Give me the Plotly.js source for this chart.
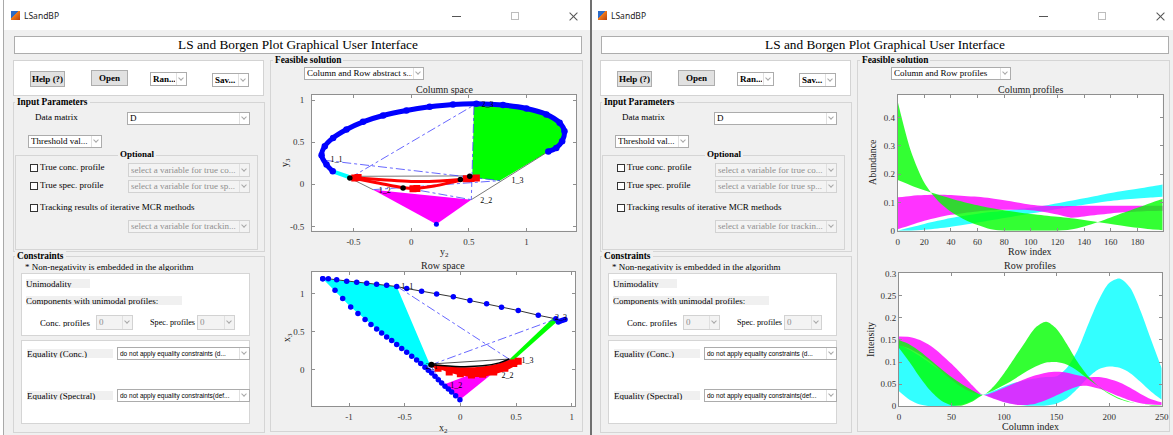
<!DOCTYPE html>
<html><head><meta charset="utf-8">
<script src="https://cdn.plot.ly/plotly-3.0.1.min.js"></script>
<style>
html,body{margin:0;padding:0;background:#fff;}
#root{position:relative;width:1173px;height:435px;overflow:hidden;background:#fff;font-family:'Liberation Serif',serif;}
#plot{position:absolute;left:0;top:0;width:1173px;height:435px;z-index:5;pointer-events:none;}
.a{position:absolute;box-sizing:border-box;white-space:nowrap;}
</style></head><body><div id="root"><div id="plot"></div></div>
<script>
// ---------------- DATA ----------------
// Column space (y2, y3)
const csEllipseX = [-0.68,-0.734,-0.777,-0.749,-0.677,-0.561,-0.417,-0.243,-0.041,0.161,0.363,0.566,0.797,1.0,1.173,1.288,1.33,1.31,1.259,1.19];
const csEllipseY = [0.155,0.234,0.345,0.452,0.551,0.651,0.742,0.817,0.877,0.92,0.948,0.956,0.94,0.90,0.83,0.73,0.63,0.512,0.432,0.39];
const csGreenX = [0.545,0.566,0.797,1.0,1.173,1.288,1.33,1.31,1.259,1.19,0.768,0.53];
const csGreenY = [0.935,0.956,0.94,0.90,0.83,0.73,0.63,0.512,0.432,0.39,0.044,0.08];
const csMagX = [-0.33,0.522,0.219];
const csMagY = [-0.063,-0.182,-0.473];
const csCyanX = [-0.68,-0.545];
const csCyanY = [0.155,0.09];
const csGrayX = [-0.532,-0.33,null,0.522,1.19,null,-0.53,0.53];
const csGrayY = [0.075,-0.063,null,-0.182,0.39,null,0.095,0.1];
const csDashX = [-0.532,0.545,null,-0.753,0.768,null,0.545,0.522,null,-0.33,0.768,null,-0.532,0.522];
const csDashY = [0.075,0.94,null,0.286,0.044,null,0.93,-0.182,null,-0.063,0.044,null,0.075,-0.182];
const csRedUpX = [-0.53,-0.25,0,0.25,0.45,0.57];
const csRedUpY = [0.08,0.055,0.035,0.04,0.06,0.08];
const csRedLoX = [-0.53,-0.3,-0.07,0.02,0.2,0.4,0.57];
const csRedLoY = [0.08,0.02,-0.04,-0.05,-0.02,0.04,0.075];
const csRedSqX = [-0.489,-0.46,0.016,0.05,0.479,0.52,0.566];
const csRedSqY = [0.075,0.08,-0.052,-0.05,0.067,0.07,0.075];
const csBlackX = [-0.532,-0.07,0.427,0.508];
const csBlackY = [0.075,-0.044,0.056,0.095];
const csDotX = [0.219];
const csDotY = [-0.473];
const csLabels = ['1_1','1_2','1_3','2_2','2_3'];
const csLabX = [-0.70,-0.28,0.87,0.60,0.61];
const csLabY = [0.29,-0.075,0.044,-0.2,0.94];

// Row space (x2, x3)
const rsUpperX = [-1.236,-1.186,-1.111,-1.021,-0.931,-0.841,-0.752,-0.662,-0.572,-0.482,-0.348,-0.213,-0.063,0.086,0.236,0.370,0.520,0.70,0.858];
const rsUpperY = [1.2,1.2,1.187,1.169,1.156,1.142,1.128,1.115,1.098,1.072,1.037,1.001,0.962,0.913,0.869,0.825,0.781,0.719,0.671];
const rsLowerX = [-1.236,-1.126,-1.057,-0.985,-0.92,-0.856,-0.803,-0.752,-0.707,-0.662,-0.617,-0.572,-0.527,-0.482,-0.437,-0.393,-0.356,-0.318,-0.288,-0.258,-0.228,-0.198,-0.168,-0.138,-0.108,-0.078,-0.042,-0.004];
const rsLowerY = [1.2,1.05,0.94,0.829,0.741,0.662,0.596,0.538,0.485,0.433,0.384,0.331,0.278,0.23,0.177,0.128,0.08,0.031,-0.008,-0.044,-0.088,-0.132,-0.176,-0.22,-0.255,-0.295,-0.343,-0.396];
const rsEndX = [0.88,0.9,0.92,0.94];
const rsEndY = [0.63,0.642,0.652,0.662];
const rsCyanX = [-1.236,-0.572,-0.273,-0.318,-0.393,-0.572,-0.752,-0.985,-1.236];
const rsCyanY = [1.2,1.098,0.066,0.031,0.128,0.331,0.538,0.829,1.2];
const rsMagX = [-0.153,0.445,-0.004,-0.078,-0.153];
const rsMagY = [-0.198,0.133,-0.396,-0.295,-0.198];
const rsGreenX = [0.44,0.83,0.885,0.47];
const rsGreenY = [0.135,0.68,0.655,0.115];
const rsRedX = [-0.26,0,0.2,0.35,0.45,0.53,0.53,0.45,0.3,0.15,0,-0.15,-0.26];
const rsRedY = [0.06,0.02,0.03,0.07,0.12,0.12,0.1,0.03,-0.05,-0.085,-0.06,0.0,0.05];
const rsRedSqX = [-0.2,-0.1,0.0,0.1,0.2,0.3,0.4,0.48,0.52];
const rsRedSqY = [0.02,-0.03,-0.055,-0.07,-0.06,-0.03,0.02,0.08,0.11];
const rsBlackX = [-0.26,0,0.2,0.35,0.44];
const rsBlackY = [0.065,0.04,0.05,0.09,0.14];
const rsThinX = [-0.26,0.44];
const rsThinY = [0.075,0.14];
const rsDashX = [-0.57,0.445,null,-0.27,0.86,null,-0.27,-0.15];
const rsDashY = [1.1,0.133,null,0.06,0.67,null,0.06,-0.2];
const rsLabels = ['1_1','2_1','1_2','2_2','1_3','2_3'];
const rsLabX = [-0.53,-0.31,-0.09,0.37,0.55,0.85];
const rsLabY = [1.09,0.04,-0.21,-0.09,0.115,0.68];

// Column profiles
const cpX = [0,10,20,30,40,50,60,70,80,90,100,110,120,130,140,150,160,170,180,190,199];
const cpCyanHi = [0.0,0.012,0.024,0.035,0.045,0.053,0.06,0.066,0.071,0.076,0.081,0.088,0.097,0.106,0.115,0.124,0.133,0.141,0.148,0.156,0.163];
const cpCyanLo = [0.0,0.0,0.003,0.008,0.014,0.021,0.029,0.037,0.045,0.053,0.061,0.069,0.077,0.085,0.092,0.099,0.105,0.11,0.114,0.117,0.12];
const cpMagHi = [0.118,0.123,0.126,0.127,0.126,0.123,0.12,0.115,0.108,0.1,0.092,0.088,0.087,0.087,0.088,0.088,0.088,0.088,0.088,0.088,0.088];
const cpMagLo = [0.005,0.02,0.035,0.047,0.056,0.063,0.068,0.072,0.074,0.074,0.072,0.066,0.057,0.046,0.05,0.056,0.061,0.065,0.068,0.07,0.071];
const cpGreenA = [0.457,0.28,0.17,0.107,0.067,0.04,0.02,0.005,0.0,0.0,0.0,0.0,0.0,0.004,0.015,0.03,0.047,0.064,0.081,0.098,0.113];
const cpGreenB = [0.179,0.16,0.143,0.128,0.114,0.101,0.09,0.08,0.072,0.065,0.059,0.054,0.049,0.044,0.038,0.031,0.024,0.017,0.01,0.005,0.002];

// Row profiles
const rpX = [0,10,20,30,40,50,60,70,80,90,100,110,120,130,140,150,160,170,180,190,200,210,220,230,240,250];
const rpCyanHi = [0.14,0.128,0.113,0.097,0.08,0.064,0.049,0.036,0.026,0.035,0.045,0.053,0.059,0.063,0.066,0.068,0.088,0.127,0.185,0.24,0.279,0.289,0.268,0.215,0.15,0.086];
const rpCyanLo = [0.034,0.015,0.004,0.0,0.0,0.0,0.004,0.013,0.026,0.018,0.01,0.005,0.002,0.001,0.002,0.006,0.018,0.04,0.065,0.084,0.09,0.087,0.075,0.055,0.033,0.015];
const rpMagHi = [0.158,0.157,0.15,0.137,0.118,0.096,0.072,0.047,0.026,0.032,0.042,0.052,0.062,0.07,0.076,0.078,0.076,0.07,0.066,0.066,0.062,0.054,0.042,0.028,0.016,0.009];
const rpMagLo = [0.138,0.13,0.117,0.1,0.08,0.06,0.043,0.031,0.026,0.017,0.009,0.004,0.003,0.006,0.014,0.025,0.036,0.045,0.046,0.04,0.032,0.022,0.013,0.007,0.004,0.003];
const rpGreenHi = [0.15,0.14,0.124,0.105,0.085,0.066,0.05,0.036,0.026,0.045,0.075,0.11,0.145,0.178,0.191,0.175,0.14,0.1,0.068,0.045,0.028,0.016,0.009,0.005,0.003,0.002];
const rpGreenLo = [0.132,0.1,0.065,0.035,0.013,0.002,0.002,0.011,0.026,0.036,0.048,0.062,0.077,0.09,0.099,0.1,0.094,0.08,0.062,0.045,0.03,0.018,0.01,0.005,0.002,0.001];

// Tick labels
const csXTicks = [-0.5,0,0.5,1], csXText = ['-0.5','0','0.5','1'];
const csYTicks = [-0.5,0,0.5,1], csYText = ['-0.5','0','0.5','1'];
const rsXTicks = [-1,-0.5,0,0.5,1], rsXText = ['-1','-0.5','0','0.5','1'];
const rsYTicks = [0,0.5,1], rsYText = ['0','0.5','1'];
const cpXTicks = [0,20,40,60,80,100,120,140,160,180];
const cpYTicks = [0,0.1,0.2,0.3,0.4], cpYText = ['0','0.1','0.2','0.3','0.4'];
const rpXTicks = [0,50,100,150,200,250];
const rpYTicks = [0,0.05,0.1,0.15,0.2,0.25,0.3], rpYText = ['0','0.05','0.1','0.15','0.2','0.25','0.3'];

// ---------------- GUI ----------------
const root = document.getElementById('root');
function box(x,y,w,h,css,text){const d=document.createElement('div');d.className='a';d.style.cssText=`left:${x}px;top:${y}px;width:${w}px;height:${h}px;`+(css||'');if(text!=null)d.textContent=text;root.appendChild(d);return d;}
function txt(x,cy,s,fs,css){const d=document.createElement('div');d.className='a';d.style.cssText=`left:${x}px;top:${cy-fs*0.65}px;font-size:${fs}px;line-height:${fs*1.3}px;`+(css||'');d.textContent=s;root.appendChild(d);return d;}
function chevron(x,y,c){box(x,y,4,4,`border-right:1px solid ${c};border-bottom:1px solid ${c};transform:rotate(45deg);`);}
function dropdown(x,y,w,h,text,o){o=o||{};
  const bg=o.disabled?'#f3f3f3':'#fff', col=o.disabled?'#8e8e8e':'#000';
  box(x,y,w,h,`background:${bg};border:1px solid ${o.disabled?'#d2d2d2':'#acacac'};`);
  box(x+3,y,w-15,h,`font-family:${o.font||"'Liberation Serif',serif"};font-size:${o.fs||9}px;line-height:${h}px;color:${col};overflow:hidden;font-weight:${o.bold?'bold':'normal'};`,text);
  box(x+w-11,y+1,10,h-2,`border-left:1px solid #e0e0e0;background:${bg};`);
  chevron(x+w-8,y+h/2-3.5,'#a8a8a8');
}
function panelLabel(x,cy,s,extra){txt(x,cy,s,9.3,'font-weight:bold;background:#f0f0f0;padding:0 2px;color:#000;'+(extra||''));}
function clipLabel(x,y,w,s,bg,fs){box(x,y,w,9,`background:${bg};font-size:${fs||9}px;line-height:10px;overflow:hidden;color:#000;`,s);}

function windowGUI(dx,feasText){
  box(dx+3,0,588,435,'background:#f0f0f0;border-left:1px solid #a9a9a9;');
  box(dx+4,0,587,30,'background:#fff;');
  box(dx+11,11,9,9,'background:linear-gradient(135deg,#2d6bc6 0%,#2d6bc6 42%,#ef7a1a 43%,#b8400c 100%);');
  txt(dx+24,16,'LSandBP',8.5,"font-family:'Noto Sans',sans-serif;color:#222;");
  box(dx+452,16,9,1,'background:#555;');
  box(dx+511,12,8,8,'border:1px solid #bdbdbd;');
  box(dx+568,16,11,1,'background:#555;transform:rotate(45deg);');
  box(dx+568,16,11,1,'background:#555;transform:rotate(-45deg);');
  // title box
  box(dx+14,36,568,18,'background:#fff;border:1px solid #adadad;font-size:13.3px;line-height:16px;text-align:center;color:#000;','LS and Borgen Plot Graphical User Interface');
  // button panel
  box(dx+13,60,251,36,'background:#fff;border:1px solid #d3d3d3;');
  box(dx+30,71,35,16,'background:#e1e1e1;border:1px solid #adadad;font-weight:bold;font-size:9px;line-height:14px;text-align:center;','Help (?)');
  box(dx+91,70,37,16,'background:#e1e1e1;border:1px solid #adadad;font-weight:bold;font-size:9px;line-height:14px;text-align:center;','Open');
  dropdown(dx+150,72,37,14,'Ran...',{bold:true});
  dropdown(dx+212,73,37,14,'Sav...',{bold:true});
  // Input parameters
  box(dx+13,102,252,150,'border:1px solid #d5d5d5;');
  panelLabel(dx+15,102,'Input Parameters');
  txt(dx+35,118,'Data matrix',9,'color:#000;');
  dropdown(dx+127,112,123,13,'D');
  dropdown(dx+28,135,74,13,'Threshold val...');
  box(dx+15,155,243,95,'border:1px solid #d5d5d5;');
  txt(dx+118,155,'Optional',9,'font-weight:bold;background:#f0f0f0;padding:0 2px;');
  const chk=[[164,'True conc. profile'],[182,'True spec. profile'],[204,'Tracking results of iterative MCR methods']];
  chk.forEach(c=>{box(dx+30,c[0],8,8,'background:#fff;border:1px solid #333;');txt(dx+40,c[0]+4,c[1],9,'color:#000;');});
  dropdown(dx+128,163,122,14,'select a variable for true co...',{disabled:true});
  dropdown(dx+128,180,122,13,'select a variable for true sp...',{disabled:true});
  dropdown(dx+128,220,122,13,'select a variable for trackin...',{disabled:true});
  // Constraints
  box(dx+13,256,252,177,'border:1px solid #d5d5d5;');
  panelLabel(dx+15,256,'Constraints');
  box(dx+25,262,230,9,'font-size:9px;line-height:10px;overflow:hidden;color:#000;','* Non-negativity is embedded in the algorithm');
  box(dx+21,273,229,63,'background:#fff;border:1px solid #d5d5d5;');
  clipLabel(dx+26,279,64,'Unimodality','#f0f0f0');
  clipLabel(dx+26,296,156,'Components with unimodal profiles:','#f0f0f0');
  clipLabel(dx+40,318,54,'Conc. profiles','#fff',8.8);
  dropdown(dx+96,315,37,15,'0',{disabled:true});
  clipLabel(dx+150,318,46,'Spec. profiles','#fff',8.2);
  dropdown(dx+197,315,38,15,'0',{disabled:true});
  box(dx+21,340,229,84,'background:#fff;border:1px solid #d5d5d5;');
  clipLabel(dx+27,349,86,'Equality (Conc.)','#f0f0f0');
  dropdown(dx+117,347,133,13,'do not apply equality constraints (d...',{font:"'Liberation Sans',sans-serif",fs:6.5});
  clipLabel(dx+27,391,86,'Equality (Spectral)','#f0f0f0');
  dropdown(dx+117,389,133,13,'do not apply equality constraints(def...',{font:"'Liberation Sans',sans-serif",fs:6.5});
  // Feasible solution
  box(dx+270,60,313,372,'border:1px solid #d5d5d5;');
  panelLabel(dx+273,60,'Feasible solution');
  dropdown(dx+304,67,120,13,feasText);
}
windowGUI(0,'Column and Row abstract s...');
windowGUI(587,'Column and Row profiles');
box(590,0,2,435,'background:#707070;');

// ---------------- PLOTS ----------------
const W=1173,H=435;
const dX=(a,b)=>[a/W,b/W], dY=(t,b)=>[1-b/H,1-t/H];
const SERIF="'Liberation Serif', serif";
function ax(o){return Object.assign({showline:true,mirror:'ticks',linecolor:'#8f8f8f',linewidth:1,ticks:'inside',ticklen:3,tickcolor:'#8f8f8f',showgrid:false,zeroline:false,tickfont:{family:SERIF,size:9,color:'#333'},fixedrange:true,ticklabelstandoff:2},o);}
const S=(xa,ya,o)=>Object.assign({xaxis:xa,yaxis:ya,hoverinfo:'skip',showlegend:false},o);

const traces=[
  // Column space
  S('x','y',{x:csGreenX,y:csGreenY,fill:'toself',fillcolor:'#00ff00',mode:'lines',line:{width:0}}),
  S('x','y',{x:csMagX,y:csMagY,fill:'toself',fillcolor:'#ff00ff',mode:'lines',line:{width:0}}),
  S('x','y',{x:csGrayX,y:csGrayY,mode:'lines',line:{color:'#555',width:0.8}}),
  S('x','y',{x:csDashX,y:csDashY,mode:'lines',line:{color:'#4040ff',width:0.8,dash:'dashdot'}}),
  S('x','y',{x:csCyanX,y:csCyanY,mode:'lines',line:{color:'#00ffff',width:4}}),
  S('x','y',{x:csEllipseX,y:csEllipseY,mode:'lines+markers',line:{color:'#0000ff',width:5,shape:'spline'},marker:{size:6.5,color:'#0000ff'}}),
  S('x','y',{x:csDotX,y:csDotY,mode:'markers',marker:{size:5,color:'#0000ff'}}),
  S('x','y',{x:csRedUpX,y:csRedUpY,mode:'lines',line:{color:'#ff0000',width:3,shape:'spline'}}),
  S('x','y',{x:csRedLoX,y:csRedLoY,mode:'lines',line:{color:'#ff0000',width:3,shape:'spline'}}),
  S('x','y',{x:csRedSqX,y:csRedSqY,mode:'markers',marker:{size:7,symbol:'square',color:'#ff0000'}}),
  S('x','y',{x:csBlackX,y:csBlackY,mode:'markers',marker:{size:5.5,color:'#000'}}),
  S('x','y',{x:csLabX,y:csLabY,mode:'text',text:csLabels,textposition:'middle right',textfont:{family:SERIF,size:8,color:'#000'}}),
  // Row space
  S('x2','y2',{x:rsCyanX,y:rsCyanY,fill:'toself',fillcolor:'#00ffff',mode:'lines',line:{width:0}}),
  S('x2','y2',{x:rsMagX,y:rsMagY,fill:'toself',fillcolor:'#ff00ff',mode:'lines',line:{width:0}}),
  S('x2','y2',{x:rsGreenX,y:rsGreenY,fill:'toself',fillcolor:'#00ff00',mode:'lines',line:{width:0}}),
  S('x2','y2',{x:rsUpperX,y:rsUpperY,mode:'lines',line:{color:'#333',width:1}}),
  S('x2','y2',{x:rsDashX,y:rsDashY,mode:'lines',line:{color:'#4040ff',width:0.8,dash:'dashdot'}}),
  S('x2','y2',{x:rsRedX,y:rsRedY,fill:'toself',fillcolor:'#ff0000',mode:'lines',line:{color:'#ff0000',width:2,shape:'spline'}}),
  S('x2','y2',{x:rsRedSqX,y:rsRedSqY,mode:'markers',marker:{size:7,symbol:'square',color:'#ff0000'}}),
  S('x2','y2',{x:rsThinX,y:rsThinY,mode:'lines',line:{color:'#222',width:0.8}}),
  S('x2','y2',{x:rsBlackX,y:rsBlackY,mode:'lines',line:{color:'#000',width:1.5,shape:'spline'}}),
  S('x2','y2',{x:[rsBlackX[0]],y:[rsBlackY[0]],mode:'markers',marker:{size:6,color:'#000'}}),
  S('x2','y2',{x:rsUpperX,y:rsUpperY,mode:'markers',marker:{size:5.5,color:'#0000ff'}}),
  S('x2','y2',{x:rsLowerX,y:rsLowerY,mode:'markers',marker:{size:5.5,color:'#0000ff'}}),
  S('x2','y2',{x:rsEndX,y:rsEndY,mode:'markers',marker:{size:5.5,color:'#0000ff'}}),
  S('x2','y2',{x:rsLabX,y:rsLabY,mode:'text',text:rsLabels,textposition:'middle right',textfont:{family:SERIF,size:8,color:'#000'}}),
];
function band(xa,ya,xs,lo,hi,col){
  traces.push(S(xa,ya,{x:xs,y:lo,mode:'lines',line:{width:0,shape:'spline',smoothing:0.8}}));
  traces.push(S(xa,ya,{x:xs,y:hi,mode:'lines',fill:'tonexty',fillcolor:col,line:{width:0,shape:'spline',smoothing:0.8}}));
}
const CY='rgba(0,255,255,0.8)', MG='rgba(255,0,255,0.8)', GR='rgba(0,255,0,0.8)';
band('x3','y3',cpX,cpCyanLo,cpCyanHi,CY);
band('x3','y3',cpX,cpMagLo,cpMagHi,MG);
band('x3','y3',cpX,cpGreenB,cpGreenA,GR);
band('x4','y4',rpX,rpCyanLo,rpCyanHi,CY);
band('x4','y4',rpX,rpMagLo,rpMagHi,MG);
band('x4','y4',rpX,rpGreenLo,rpGreenHi,GR);

const ann=(px,py,text,o)=>Object.assign({xref:'paper',yref:'paper',x:px/W,y:1-py/H,text,showarrow:false,xanchor:'center',yanchor:'middle',font:{family:SERIF,size:10,color:'#222'}},o||{});
const layout={
  width:W,height:H,margin:{l:0,r:0,t:0,b:0},paper_bgcolor:'rgba(0,0,0,0)',plot_bgcolor:'#fff',showlegend:false,
  xaxis:ax({domain:dX(312,576),range:[-0.86,1.43],tickvals:csXTicks,ticktext:csXText,anchor:'y'}),
  yaxis:ax({domain:dY(95,230.7),range:[-0.55,1.06],tickvals:csYTicks,ticktext:csYText,anchor:'x',ticklabelstandoff:5}),
  xaxis2:ax({domain:dX(312.3,575),range:[-1.33,1.03],tickvals:rsXTicks,ticktext:rsXText,anchor:'y2'}),
  yaxis2:ax({domain:dY(272,406.3),range:[-0.484,1.29],tickvals:rsYTicks,ticktext:rsYText,anchor:'x2',ticklabelstandoff:5}),
  xaxis3:ax({domain:dX(897.7,1162.7),range:[0,199],tickvals:cpXTicks,anchor:'y3'}),
  yaxis3:ax({domain:dY(95,230.7),range:[0,0.48],tickvals:cpYTicks,ticktext:cpYText,anchor:'x3',ticklabelstandoff:0}),
  xaxis4:ax({domain:dX(899,1161.7),range:[0,250],tickvals:rpXTicks,anchor:'y4'}),
  yaxis4:ax({domain:dY(273,406.3),range:[0,0.3015],tickvals:rpYTicks,ticktext:rpYText,anchor:'x4',ticklabelstandoff:0}),
  annotations:[
    ann(444,89,'Column space'),
    ann(444,252,'y<sub>2</sub>'),
    ann(285,163,'y<sub>3</sub>',{textangle:-90}),
    ann(443,265,'Row space'),
    ann(443,428,'x<sub>2</sub>'),
    ann(287,338,'x<sub>3</sub>',{textangle:-90}),
    ann(1030,89,'Column profiles'),
    ann(1030,251,'Row index'),
    ann(872,162,'Abundance',{textangle:-90}),
    ann(1030,265,'Row profiles'),
    ann(1030,426,'Column index'),
    ann(870,340,'Intensity',{textangle:-90}),
  ]
};
Plotly.newPlot('plot',traces,layout,{displayModeBar:false,staticPlot:true});
</script></body></html>
